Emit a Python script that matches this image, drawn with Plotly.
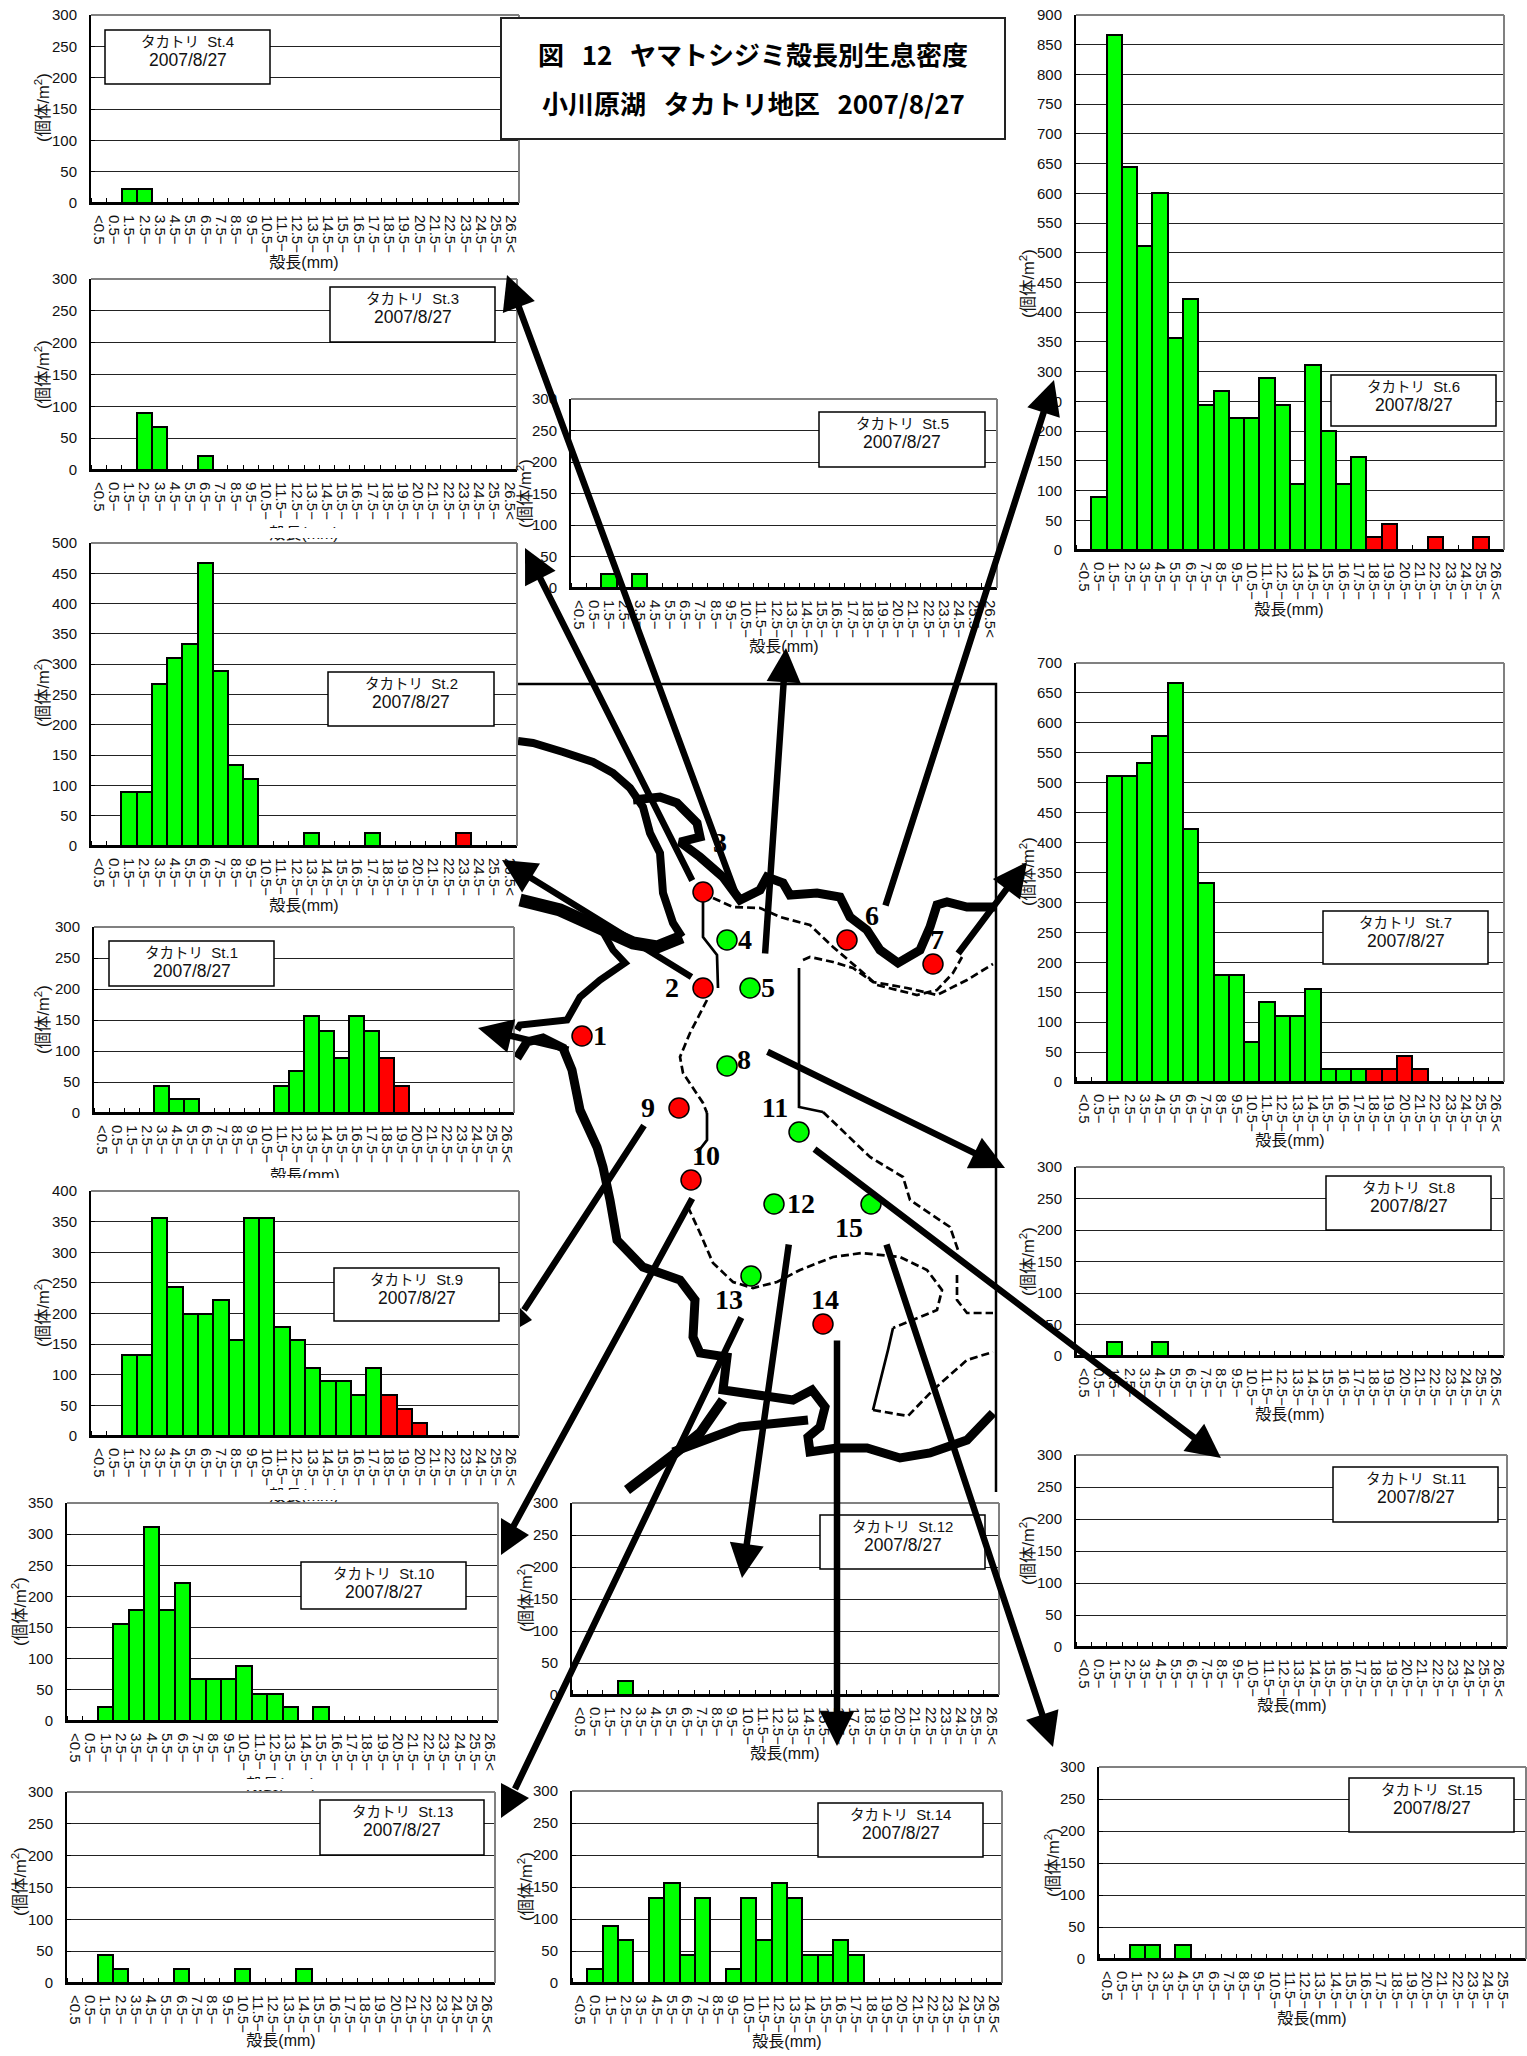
import plotly.graph_objects as go

W, H = 1527, 2056
size_labels = ["<0.5"] + [f"{i}.5\u2212" for i in range(0, 26)] + ["26.5<"]

st1 = [0,0,0,0,44,22,22,0,0,0,0,0,44,67,156,133,89,156,133,89,44,0,0,0,0,0,0,0]
st2 = [0,0,89,89,267,311,333,467,289,133,111,0,0,0,22,0,0,0,22,0,0,0,0,0,22,0,0,0]
st3 = [0,0,0,89,67,0,0,22,0,0,0,0,0,0,0,0,0,0,0,0,0,0,0,0,0,0,0,0]
st4 = [0,0,22,22,0,0,0,0,0,0,0,0,0,0,0,0,0,0,0,0,0,0,0,0,0,0,0,0]
st5 = [0,0,22,0,22,0,0,0,0,0,0,0,0,0,0,0,0,0,0,0,0,0,0,0,0,0,0,0]
st6 = [0,89,866,644,511,600,356,422,244,267,222,222,289,244,111,311,200,111,156,22,44,0,0,22,0,0,22,0]
st7 = [0,0,511,511,533,578,667,422,333,178,178,67,133,111,111,156,22,22,22,22,22,44,22,0,0,0,0,0]
st8 = [0,0,22,0,0,22,0,0,0,0,0,0,0,0,0,0,0,0,0,0,0,0,0,0,0,0,0,0]
st9 = [0,0,133,133,356,244,200,200,222,156,356,356,178,156,111,89,89,67,111,67,44,22,0,0,0,0,0,0]
st10 = [0,0,22,156,178,311,178,222,67,67,67,89,44,44,22,0,22,0,0,0,0,0,0,0,0,0,0,0]
st11 = [0,0,0,0,0,0,0,0,0,0,0,0,0,0,0,0,0,0,0,0,0,0,0,0,0,0,0,0]
st12 = [0,0,0,22,0,0,0,0,0,0,0,0,0,0,0,0,0,0,0,0,0,0,0,0,0,0,0,0]
st13 = [0,0,44,22,0,0,0,22,0,0,0,22,0,0,0,22,0,0,0,0,0,0,0,0,0,0,0,0]
st14 = [0,22,89,67,0,133,156,44,133,0,22,133,67,156,133,44,44,67,44,0,0,0,0,0,0,0,0,0]
st15 = [0,0,22,22,0,22,0,0,0,0,0,0,0,0,0,0,0,0,0,0,0,0,0,0,0,0,0,0]
series = [st1, st2, st3, st4, st5, st6, st7, st8, st9, st10, st11, st12, st13, st14, st15]
ymax = [300, 500, 300, 300, 300, 900, 700, 300, 400, 350, 300, 300, 300, 300, 300]

# layout of the panels, page pixels
panel_box = [(94,514,927,1113),(91,517,543,846),(91,517,279,470),(91,519,15,203),(571,997,399,588),
             (1076,1504,15,550),(1076,1504,663,1082),(1076,1504,1167,1356),(91,519,1191,1436),(67,498,1503,1721),
             (1076,1507,1455,1647),(572,999,1503,1695),(67,495,1792,1983),(572,1002,1791,1983),(1099,1526,1767,1959)]
label_box = [(109,274,941,986),(328,494,672,726),(330,495,287,342),(105,270,30,84),(819,985,412,467),
             (1331,1496,375,426),(1323,1488,911,964),(1326,1491,1176,1230),(334,499,1268,1321),(301,466,1562,1609),
             (1333,1498,1467,1522),(820,985,1515,1569),(320,484,1800,1855),(818,983,1803,1857),(1349,1514,1778,1832)]
ytitle_pos = [(42,1020),(42,693),(42,375),(42,108),(524,494),(1027,284),(1027,872),(1027,1262),(42,1313),(19,1612),
              (1027,1551),(525,1598),(19,1882),(525,1887),(1052,1863)]
xtitle_pos = [(305,1177),(304,907),(304,535),(304,264),(784,648),(1289,611),(1290,1142),(1290,1416),(304,1497),(281,1786),
              (1292,1707),(785,1755),(281,2042),(787,2043),(1312,2020)]
xtitle_cover = [(250,360,1178,1190),(250,360,528,538),(250,360,1490,1500),(230,340,1779,1790)]

# station markers and numbers on the lake map, page pixels
st_x = [582,703,703,727,750,847,933,727,679,691,799,774,751,823,871]
st_y = [1036,988,892,940,988,940,964,1066,1108,1180,1132,1204,1276,1324,1204]
st_col = ["#FF0000","#FF0000","#FF0000","#00FF00","#00FF00","#FF0000","#FF0000","#00FF00","#FF0000","#FF0000",
          "#00FF00","#00FF00","#00FF00","#FF0000","#00FF00"]
num_x = [600,672,720,745,768,872,937,744,648,706,775,801,729,825,849]
num_y = [1038,990,845,942,990,918,942,1062,1110,1158,1110,1206,1302,1302,1230]

coast_1 = [(518,741),(533,743),(563,752),(593,762),(613,773),(630,788),(643,807),(650,833),(660,853),(663,893),(673,923),(682,937)]
coast_1b = [(682,937),(657,947),(633,943),(600,927),(560,910),(520,900)]
coast_2 = [(633,800),(660,797),(677,803),(697,823),(700,837),(680,842),(700,857),(723,877),(740,900),(760,890),(767,877),
           (783,883),(790,895),(817,893),(840,897),(850,917),(867,930),(880,950),(898,963),(920,950),(930,927),(937,905),
           (947,902),(967,907),(996,907)]
coast_3 = [(517,1030),(520,1025),(567,1020),(580,997),(600,980),(625,963),(613,950),(600,927)]
coast_4 = [(517,1058),(527,1042),(543,1038),(563,1048),(572,1070),(580,1110),(597,1147),(603,1167),(610,1200),(617,1240),
           (643,1267),(680,1280),(695,1300),(693,1337),(700,1353),(727,1357),(723,1390),(757,1395),(793,1400),(812,1390),
           (825,1407),(820,1427),(808,1437),(810,1452),(837,1448),(867,1448),(900,1458),(930,1453),(967,1440),(993,1413)]
coast_5 = [(723,1400),(700,1433),(673,1455),(627,1490)]
coast_6 = [(808,1420),(740,1427),(673,1452)]
contour_1 = [(713,898),(733,907),(760,908),(780,917),(810,925),(833,947),(860,970),(877,985),(917,995),(937,990),(953,973),(962,957)]
contour_2 = [(803,960),(810,957),(833,962),(853,968),(873,982),(907,988),(937,995),(967,980),(993,964)]
contour_3a = [(703,900),(703,937),(717,955),(718,988)]
contour_3b = [(707,1000),(690,1033),(680,1057),(683,1073),(703,1103),(707,1113)]
contour_3c = [(707,1113),(707,1140),(697,1153)]
contour_3d = [(688,1207),(700,1233),(713,1263),(733,1282),(753,1288),(777,1282),(800,1270),(833,1257),(862,1253),
              (900,1257),(927,1270),(942,1290),(937,1310),(893,1328)]
contour_3e = [(893,1328),(888,1350),(873,1410)]
contour_3f = [(873,1410),(908,1416),(933,1390),(967,1360),(993,1352)]
contour_4a = [(799,968),(799,1107),(823,1112)]
contour_4b = [(823,1112),(870,1157),(903,1177),(910,1200),(950,1227),(958,1250)]
contour_4c = [(957,1275),(957,1300),(967,1313),(993,1313)]
frame_x = [517,996,996]
frame_y = [684,684,1492]

# arrows: tail x, tail y, tip x, tip y
arrows = [(737,897,507,275),(693,882,525,548),(693,978,502,860),(570,1050,478,1028),(765,955,786,648),(885,907,1054,380),
          (957,955,1027,862),(766,1051,1005,1168),(813,1148,1221,1458),(789,1243,742,1578),(837,1339,837,1746),(886,1243,1053,1747)]
cut_arrows = [(645,1124,524,1310),(693,1197,513,1527),(742,1316,515,1789)]
cut_heads = ["M520,1308 L520,1327 L532,1320 Z","M501,1518 L501,1555 L529,1535 Z","M501,1783 L501,1818 L529,1798 Z"]

LATIN = "Liberation Sans, Noto Sans CJK JP"
CJK = "Noto Sans CJK JP"

fig = go.Figure()
layout = dict(width=W, height=H, margin=dict(l=0, r=0, t=0, b=0, autoexpand=False), paper_bgcolor="white",
              plot_bgcolor="rgba(0,0,0,0)", showlegend=False, bargap=0, hovermode=False,
              xaxis=dict(domain=[0,1], range=[0,W], visible=False, fixedrange=True, automargin=False),
              yaxis=dict(domain=[0,1], range=[H,0], visible=False, fixedrange=True, automargin=False))
shapes, annots = [], []

def add_line(points, width, dash="solid"):
    fig.add_trace(go.Scatter(x=[p[0] for p in points], y=[p[1] for p in points], mode="lines",
                             line=dict(color="black", width=width, dash=dash), xaxis="x", yaxis="y"))

fig.add_trace(go.Scatter(x=frame_x, y=frame_y, mode="lines", line=dict(color="black", width=2.5), xaxis="x", yaxis="y"))
add_line(coast_1, 8); add_line(coast_1b, 13); add_line(coast_2, 9); add_line(coast_3, 7)
add_line(coast_4, 9); add_line(coast_5, 10); add_line(coast_6, 9)
for c in (contour_1, contour_2, contour_3b, contour_3d, contour_3f, contour_4b, contour_4c):
    add_line(c, 2.7, "8px,4px")
for c in (contour_3a, contour_3c, contour_3e, contour_4a):
    add_line(c, 2.7)

fig.add_trace(go.Scatter(x=st_x, y=st_y, mode="markers", xaxis="x", yaxis="y",
                         marker=dict(size=20, color=st_col, line=dict(color="black", width=1.5))))
fig.add_trace(go.Scatter(x=num_x, y=num_y, mode="text", xaxis="x", yaxis="y",
                         text=[f"<b>{i + 1}</b>" for i in range(15)], textposition="middle center",
                         textfont=dict(family="Liberation Serif", size=28, color="black")))
fig.add_trace(go.Scatter(x=[p[0] for p in xtitle_pos], y=[p[1] for p in xtitle_pos], mode="text", xaxis="x", yaxis="y",
                         text=["殻長(mm)"] * 15, textposition="middle center",
                         textfont=dict(family=LATIN, size=16, color="#111")))

for i, vals in enumerate(series):
    n = i + 2
    L, R, T, B = panel_box[i]
    xa, ya = f"x{n}", f"y{n}"
    colors = ["#FF0000" if k >= 19 else "#00FF00" for k in range(len(vals))]
    fig.add_trace(go.Bar(x=list(range(28)), y=vals, xaxis=xa, yaxis=ya, width=1,
                         marker=dict(color=colors, line=dict(color="black", width=2))))
    layout[f"xaxis{n}"] = dict(domain=[L / W, R / W], anchor=ya, range=[-0.5, 27.5], tickmode="array",
                               tickvals=list(range(28)), ticktext=size_labels, tickangle=90, ticks="",
                               ticklabelstandoff=7, showgrid=False, zeroline=False, showline=True,
                               linecolor="black", linewidth=2, fixedrange=True, automargin=False,
                               tickfont=dict(family="Liberation Sans", size=15, color="#111"),
                               minor=dict(tick0=-0.5, dtick=1, ticks="inside", ticklen=5, tickwidth=1.2,
                                          tickcolor="black", showgrid=False))
    layout[f"yaxis{n}"] = dict(domain=[1 - B / H, 1 - T / H], anchor=xa, range=[0, ymax[i]], dtick=50,
                               ticks="inside", ticklen=4, tickcolor="black", ticklabelstandoff=9,
                               showgrid=True, gridcolor="#222", gridwidth=1, zeroline=False, automargin=False,
                               showline=True, linecolor="black", linewidth=2, fixedrange=True,
                               tickfont=dict(family="Liberation Sans", size=15, color="#111"))
    shapes.append(dict(type="line", xref=f"{xa} domain", yref=f"{ya} domain", x0=0, x1=1, y0=1, y1=1,
                       line=dict(color="#808080", width=2), layer="above"))
    shapes.append(dict(type="line", xref=f"{xa} domain", yref=f"{ya} domain", x0=1, x1=1, y0=0, y1=1,
                       line=dict(color="#808080", width=2), layer="above"))
    bL, bR, bT, bB = label_box[i]
    shapes.append(dict(type="rect", xref="x", yref="y", x0=bL, x1=bR, y0=bT, y1=bB, fillcolor="white",
                       line=dict(color="black", width=1.5), layer="above"))
    annots.append(dict(xref="x", yref="y", x=(bL + bR) / 2, y=bT + 11, showarrow=False,
                       font=dict(family=LATIN, size=15, color="#111"),
                       text=f'<span style="font-size:14.5px">タカトリ</span>\u00a0\u00a0St.{i + 1}'))
    annots.append(dict(xref="x", yref="y", x=(bL + bR) / 2, y=bT + 30, showarrow=False,
                       font=dict(family=LATIN, size=17.5, color="#111"), text="2007/8/27"))
    annots.append(dict(xref="x", yref="y", x=ytitle_pos[i][0], y=ytitle_pos[i][1], showarrow=False, textangle=-90,
                       font=dict(family=LATIN, size=16.5, color="#111"), text="(個体/m<sup>2</sup>)"))

for x0, x1, y0, y1 in xtitle_cover:
    shapes.append(dict(type="rect", xref="x", yref="y", x0=x0, x1=x1, y0=y0, y1=y1, fillcolor="white",
                       line=dict(width=0), layer="above"))

shapes.append(dict(type="rect", xref="x", yref="y", x0=501, x1=1005, y0=18, y1=139, fillcolor="white",
                   line=dict(color="#222", width=2), layer="above"))
annots.append(dict(xref="x", yref="y", x=753, y=53, showarrow=False,
                   font=dict(family=CJK, size=26, color="black"),
                   text="<b>図\u00a0\u00a0\u00a012\u00a0\u00a0\u00a0ヤマトシジミ殻長別生息密度</b>"))
annots.append(dict(xref="x", yref="y", x=753, y=102, showarrow=False,
                   font=dict(family=CJK, size=26, color="black"),
                   text="<b>小川原湖\u00a0\u00a0\u00a0タカトリ地区\u00a0\u00a0\u00a02007/8/27</b>"))

for tx, ty, hx, hy in arrows:
    annots.append(dict(xref="x", yref="y", axref="x", ayref="y", x=hx, y=hy, ax=tx, ay=ty, text="", showarrow=True,
                       arrowhead=2, arrowsize=1.05, arrowwidth=6.5, arrowcolor="black", standoff=0))
for tx, ty, hx, hy in cut_arrows:
    annots.append(dict(xref="x", yref="y", axref="x", ayref="y", x=hx, y=hy, ax=tx, ay=ty, text="", showarrow=True,
                       arrowhead=0, arrowwidth=6.5, arrowcolor="black", standoff=0))
for p in cut_heads:
    shapes.append(dict(type="path", xref="x", yref="y", path=p, fillcolor="black", line=dict(width=0), layer="above"))

layout["shapes"] = shapes
layout["annotations"] = annots
fig.update_layout(**layout)
fig.write_html("out.html", post_script="document.body.style.margin='0';", config={"displayModeBar": False})
